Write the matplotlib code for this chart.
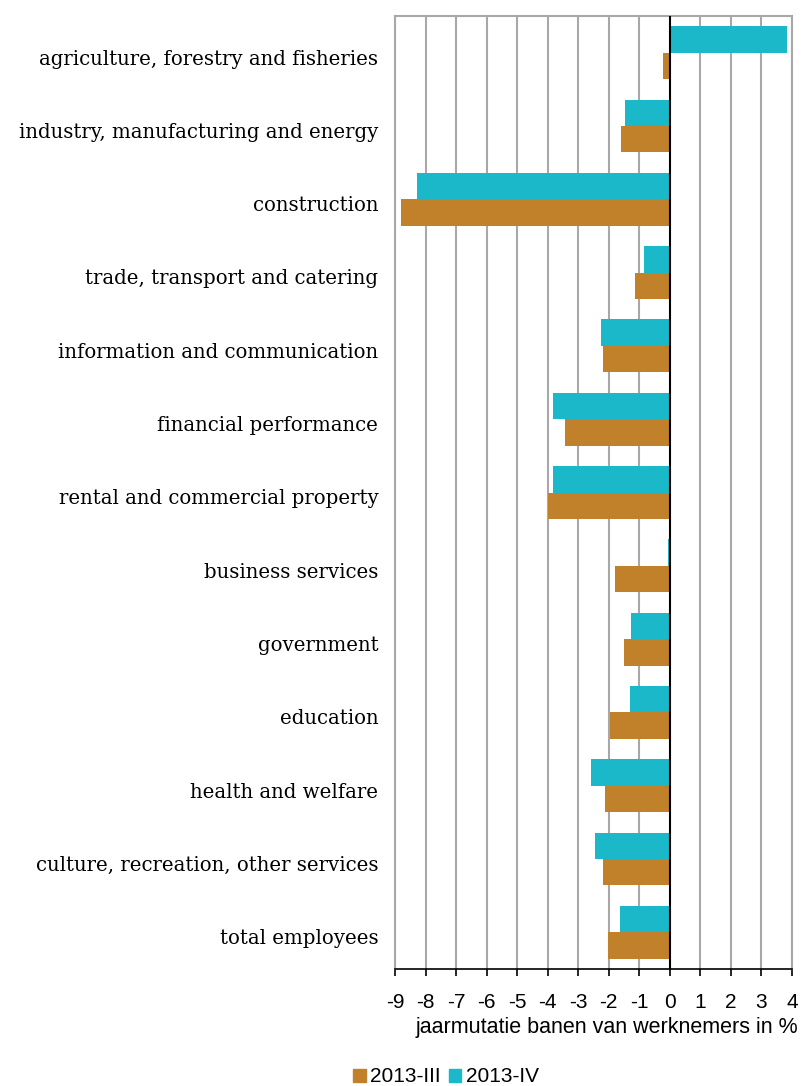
import matplotlib
matplotlib.use("Agg")
import matplotlib.pyplot as plt
import numpy as np
from matplotlib.patches import Patch

categories = [
    "agriculture, forestry and fisheries",
    "industry, manufacturing and energy",
    "construction",
    "trade, transport and catering",
    "information and communication",
    "financial performance",
    "rental and commercial property",
    "business services",
    "government",
    "education",
    "health and welfare",
    "culture, recreation, other services",
    "total employees",
]
q3_2013 = [-0.22, -1.6, -8.8, -1.13, -2.19, -3.42, -3.98, -1.78, -1.51, -1.95, -2.11, -2.19, -2.04]
q4_2013 = [3.84, -1.46, -8.28, -0.86, -2.25, -3.82, -3.82, -0.05, -1.27, -1.32, -2.57, -2.44, -1.64]
series_labels = ["2013-III", "2013-IV"]
xticks = list(range(-9, 5))
xlabel = "jaarmutatie banen van werknemers in %"

c_brown = "#C1802A"
c_teal = "#1AB8C8"

fig = plt.figure(figsize=(8.03, 10.86), dpi=100)
ax = fig.add_axes([395/803, 1 - 969/1086, (792-395)/803, (969-16)/1086])

n = len(categories)
y = np.arange(n)
h = 0.36
ax.barh(y - h/2, q4_2013, height=h, color=c_teal, zorder=3)
ax.barh(y + h/2, q3_2013, height=h, color=c_brown, zorder=3)

ax.set_ylim(n - 0.5, -0.5)
ax.set_xlim(-9, 4)
ax.set_xticks(xticks)
ax.set_xticklabels([str(t) for t in xticks], fontsize=15, family="Liberation Sans")
# labels sit slightly below the category centre, as in the original
ax.set_yticks(y + 0.06)
ax.set_yticklabels(categories, fontsize=14.2, family="DejaVu Serif")
ax.tick_params(axis="y", length=0, pad=12)
ax.tick_params(axis="x", direction="out", length=5, width=1.2, color="black", pad=12)
fig.text(798/803, 1 - 1027/1086, xlabel, fontsize=15.5, family="Liberation Sans",
         ha="right", va="center")

for t in xticks:
    if t != 0:
        ax.axvline(t, color="#A8A8A8", lw=1.5, zorder=1)
ax.axvline(0, color="black", lw=1.5, zorder=4)

for s in ["left", "top", "right"]:
    ax.spines[s].set_color("#A8A8A8")
    ax.spines[s].set_linewidth(1.5)
ax.spines["bottom"].set_color("black")
ax.spines["bottom"].set_linewidth(1.2)

handles = [Patch(color=c_brown), Patch(color=c_teal)]
fig.legend(handles, series_labels, loc="center", bbox_to_anchor=(446/803, 1 - 1077/1086),
           ncol=2, frameon=False, prop={"family": "Liberation Sans", "size": 15},
           handlelength=0.6, handleheight=0.6, handletextpad=0.2, columnspacing=0.4,
           borderpad=0, borderaxespad=0)

fig.savefig("out.png", dpi=100)
